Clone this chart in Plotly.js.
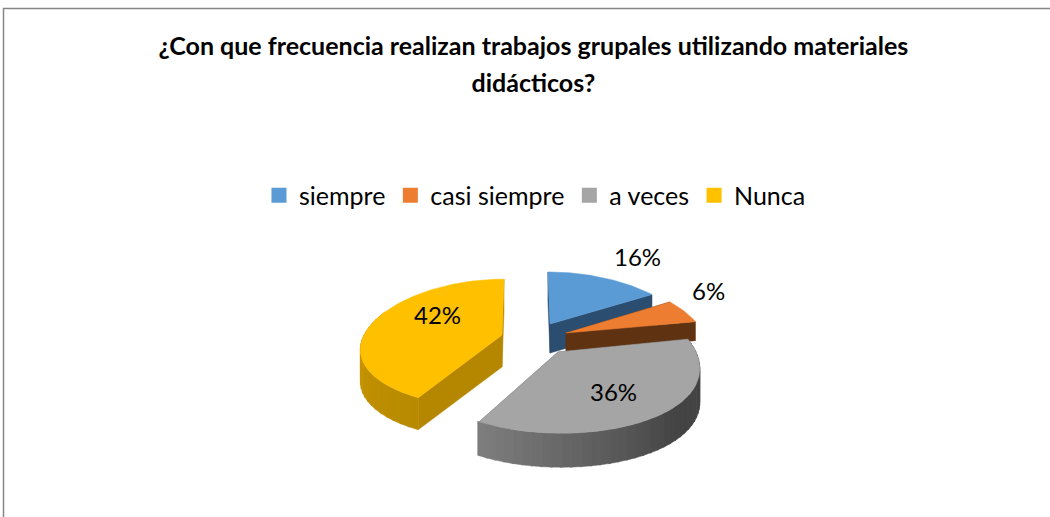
<!DOCTYPE html>
<html><head><meta charset="utf-8">
<script src="https://cdn.plot.ly/plotly-3.0.1.min.js"></script>
<style>html,body{margin:0;padding:0;background:#fff}#c{width:1050px;height:517px}</style></head>
<body><div id="c"></div>
<script>
const categories = ['siempre','casi siempre','a veces','Nunca'];
const values = [16,6,36,42];
const colors = ['#5B9BD5','#ED7D31','#A5A5A5','#FFC000'];
const titleLines = ['¿Con que frecuencia realizan trabajos grupales utilizando materiales','didácticos?'];

// Drawing setup (pixel-like axis units) for the tilted, exploded pie
const PERSP = 0.211, PY = 0.63;
const slices = [
 {ax:550,ay:324,rx:136,ry:58.7,sk:0.04,d:29,side:'#2B4D70',labx:637,laby:256,wall:null},
 {ax:566,ay:333,rx:137,ry:62,sk:0,d:19,side:'#5F3312',labx:708,laby:290,wall:null},
 {ax:558,ay:352,rx:138,ry:70,sk:0.04,d:34,side:'#5A5A5A',labx:613,laby:391,wall:[[0,'#444444'],[0.42,'#444444'],[1,'#808080']]},
 {ax:502,ay:335,rx:138,ry:63,sk:-0.036,d:32,side:'#B58700',labx:437,laby:314,wall:[[0,'#B88A00'],[1,'#E3A800']]}
];
function pt(s,thetaDeg,dz){
  const t=thetaDeg*Math.PI/180, c=Math.cos(t), q=1/(1+PERSP*c);
  const yo=-s.ry*c*Math.pow(q,PY);
  return [s.ax+s.rx*Math.sin(t)*q+s.sk*yo, s.ay+yo+(dz||0)];
}
function hex(h){return [1,3,5].map(i=>parseInt(h.substr(i,2),16));}
function mix(stops,f){
  for(let i=1;i<stops.length;i++){ if(f<=stops[i][0]){
    const g=(f-stops[i-1][0])/(stops[i][0]-stops[i-1][0]||1),a=hex(stops[i-1][1]),b=hex(stops[i][1]);
    return 'rgb('+a.map((v,k)=>Math.round(v+(b[k]-v)*g)).join(',')+')';}}
  return stops[stops.length-1][1];
}
const total=values.reduce((a,b)=>a+b,0);
const traces=[]; const poly=(pts,color)=>traces.push({type:'scatter',mode:'lines',x:pts.map(p=>p[0]).concat(pts[0][0]),y:pts.map(p=>p[1]).concat(pts[0][1]),fill:'toself',fillcolor:color,line:{color:color,width:0.5},hoverinfo:'skip',showlegend:false});
let acc=0;
values.forEach((v,i)=>{
  const s=slices[i], a0=acc/total*360, a1=(acc+v)/total*360; acc+=v;
  const apex=[s.ax,s.ay], apexB=[s.ax,s.ay+s.d];
  // radial side faces
  poly([apex,pt(s,a0),pt(s,a0,s.d),apexB],s.side);
  poly([apex,pt(s,a1),pt(s,a1,s.d),apexB],s.side);
  // outer wall, drawn in shaded strips
  if(s.wall){ const n=40; for(let k=0;k<n;k++){
      const b0=a0+(a1-a0)*k/n,b1=a0+(a1-a0)*(k+1.2)/n;
      if(Math.cos(b0*Math.PI/180)>0.35) continue;
      poly([pt(s,b0),pt(s,b1),pt(s,b1,s.d),pt(s,b0,s.d)],mix(s.wall,k/n));
  }}
  // top face
  const face=[apex]; const m=Math.max(12,Math.round((a1-a0)));
  for(let k=0;k<=m;k++) face.push(pt(s,a0+(a1-a0)*k/m));
  poly(face,colors[i]);
});
// legend entries
categories.forEach((c,i)=>traces.push({type:'scatter',mode:'markers',x:[null],y:[null],name:c,marker:{symbol:'square',size:15,color:colors[i]},hoverinfo:'skip',showlegend:true}));
const font='Lato, Carlito, Calibri, sans-serif';
const span=t=>'<span style="font-size:25px">'+t+'</span>';
const layout={
  width:1050,height:517,margin:{l:0,r:0,t:0,b:0},paper_bgcolor:'#fff',plot_bgcolor:'#fff',
  xaxis:{range:[0,1050],visible:false,fixedrange:true},
  yaxis:{range:[517,0],visible:false,fixedrange:true},
  title:{text:titleLines.map(span).join('<br>'),font:{family:font,size:28.5,color:'#000',weight:700},x:0.508,xanchor:'center',y:0.893,yanchor:'bottom',yref:'container'},
  legend:{orientation:'h',x:0.5095,xanchor:'center',y:0.622,yanchor:'middle',font:{family:font,size:25,color:'#000'},itemwidth:30,traceorder:'normal'},
  shapes:[{type:'rect',xref:'x',yref:'y',x0:3.5,x1:1080,y0:8.5,y1:540,line:{color:'#868686',width:1.5},fillcolor:'rgba(0,0,0,0)'}],
  annotations:values.map((v,i)=>({x:slices[i].labx,y:slices[i].laby,xref:'x',yref:'y',text:v+'%',showarrow:false,font:{family:font,size:24,color:'#000'}})),
  showlegend:true,hovermode:false
};
Plotly.newPlot('c',traces,layout,{staticPlot:true,displayModeBar:false});
</script></body></html>
